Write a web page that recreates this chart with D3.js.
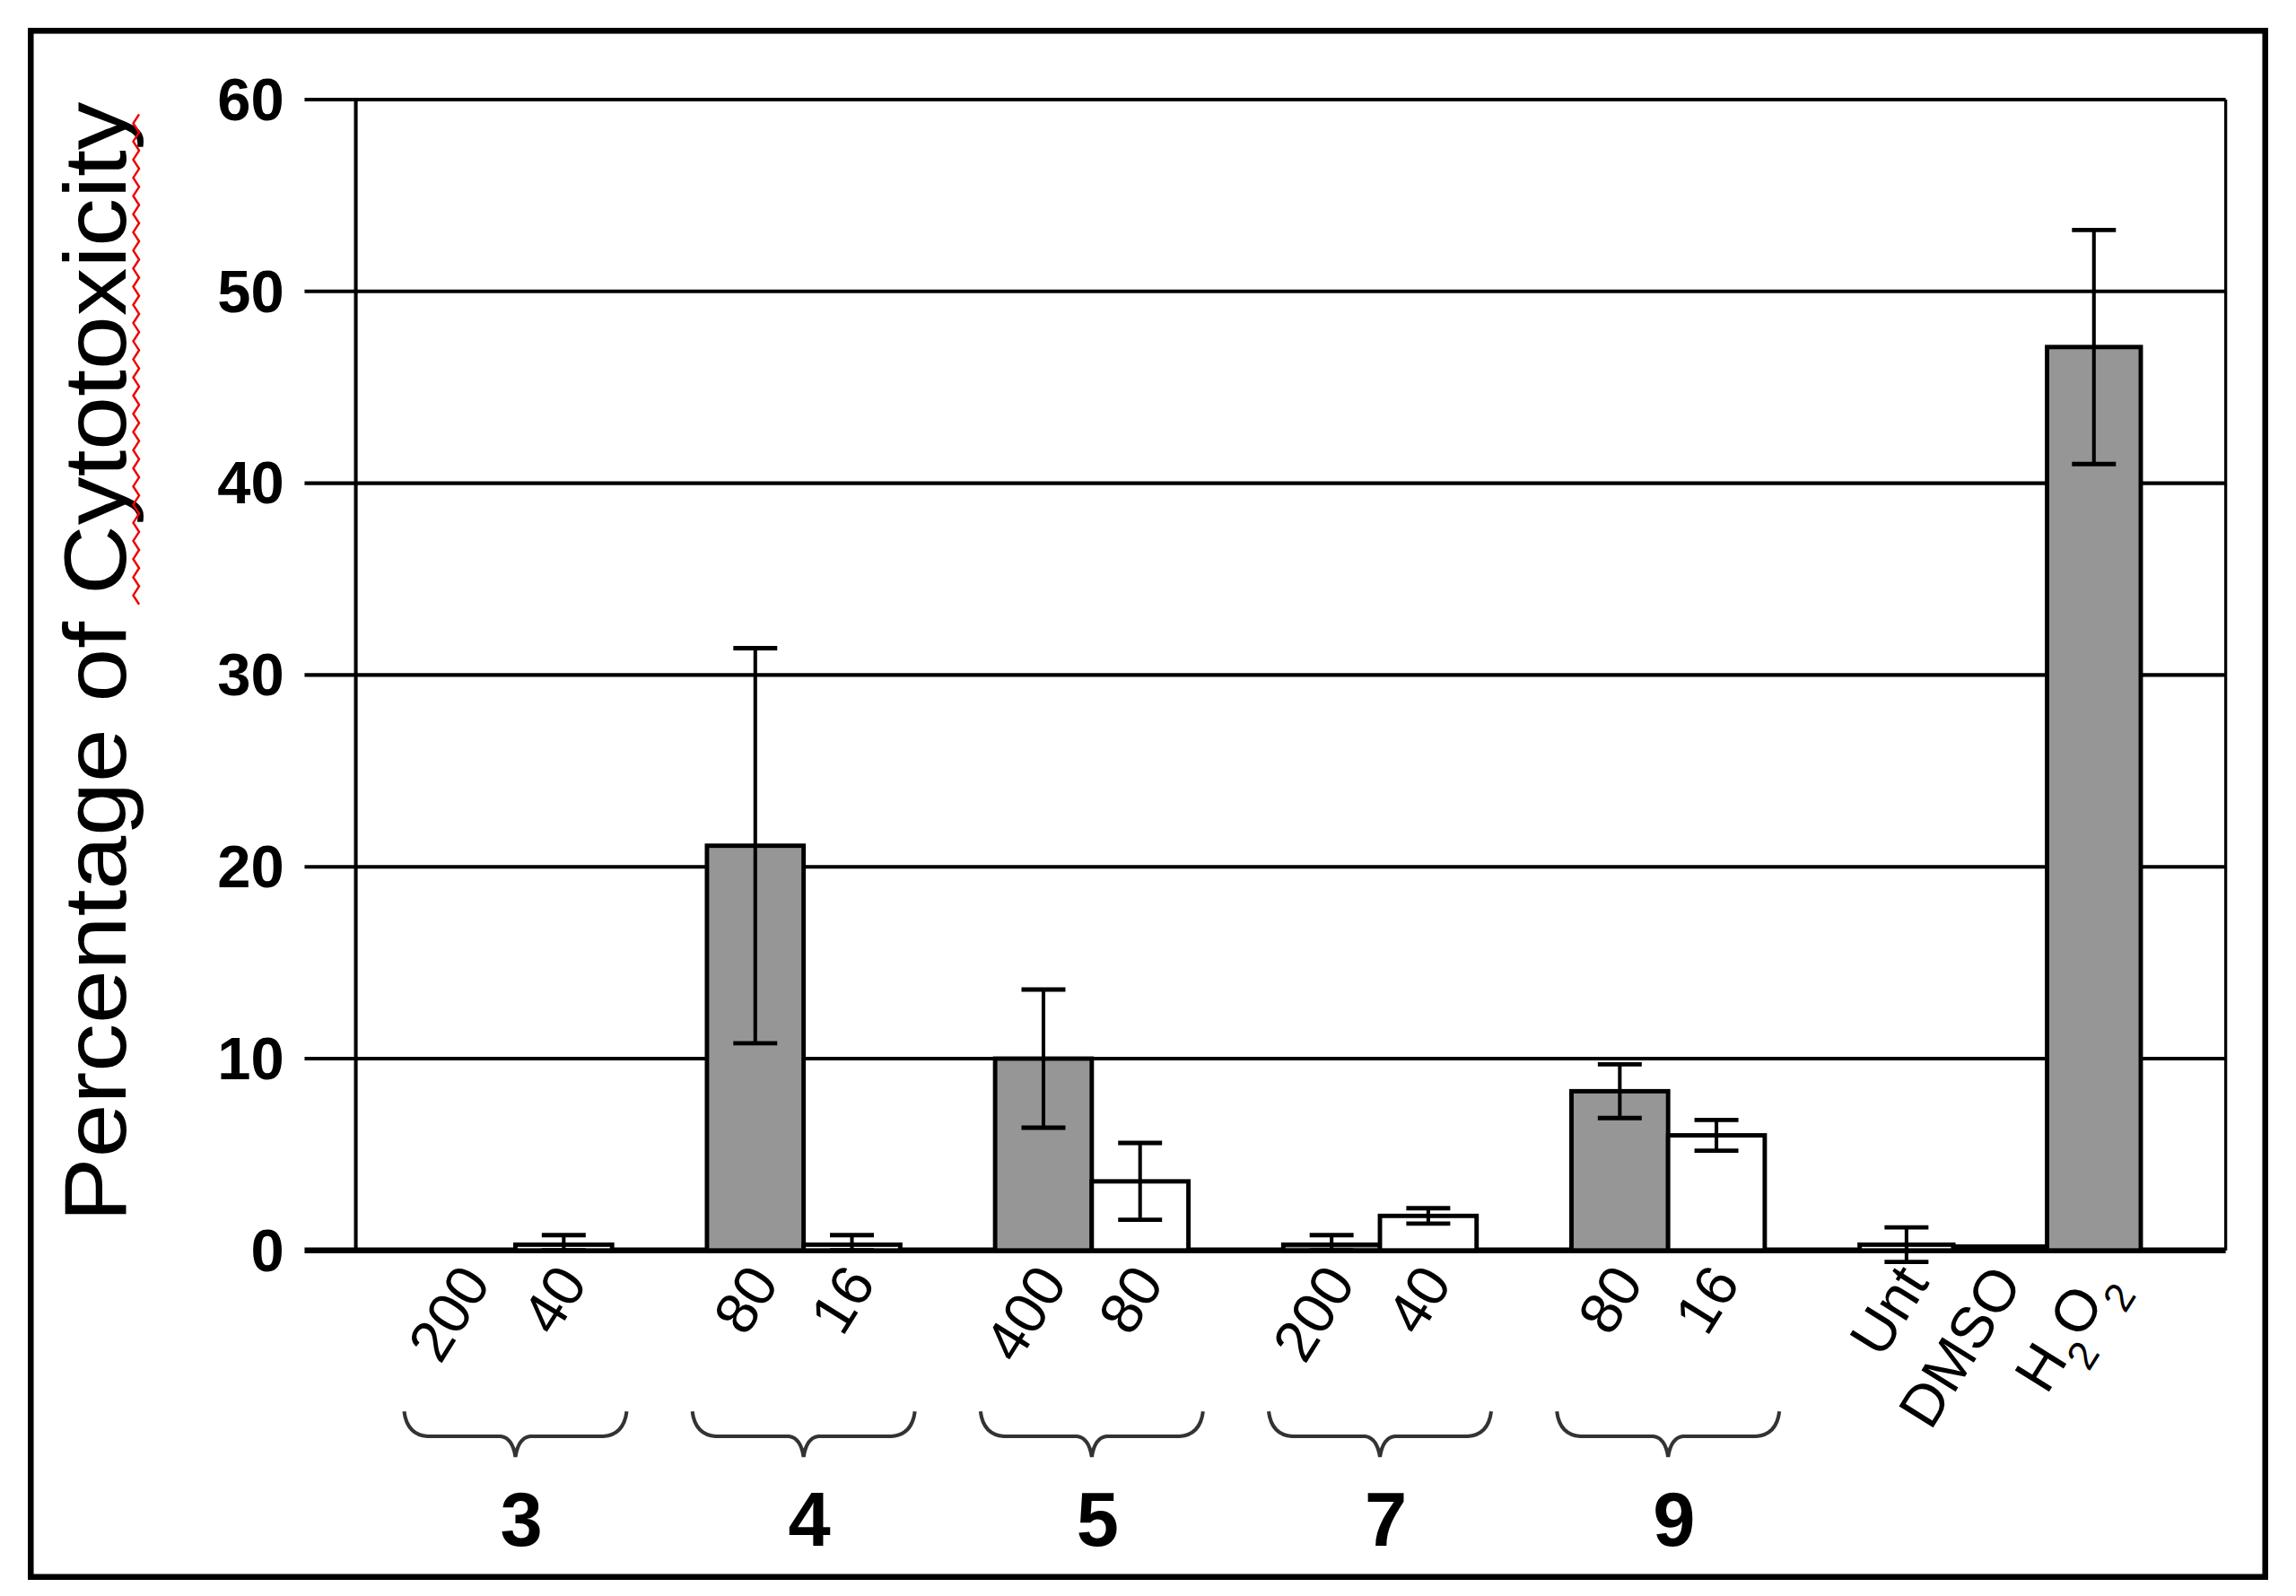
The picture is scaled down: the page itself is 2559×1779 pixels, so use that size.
<!DOCTYPE html>
<html><head><meta charset="utf-8">
<script src="https://cdn.jsdelivr.net/npm/d3@7"></script>
<style>body{margin:0;background:#fff}</style></head>
<body><svg id="c"></svg>
<script>
// data
var groups = ["3", "4", "5", "7", "9", ""];
var doses = [["200", "40"], ["80", "16"], ["400", "80"], ["200", "40"], ["80", "16"], ["Unt", "DMSO", "H2O2"]];
var means = [[0, 0.3], [21.1, 0.3], [10.0, 3.6], [0.3, 1.8], [8.3, 6.0], [0.3, 0.2, 47.1]];
var errs = [[0, 0.5], [10.3, 0.5], [3.6, 2.0], [0.5, 0.4], [1.4, 0.8], [0.9, 0, 6.1]];
var fills = [["#969696", "#fff"], ["#969696", "#fff"], ["#969696", "#fff"], ["#969696", "#fff"], ["#969696", "#fff"], ["#fff", "#fff", "#969696"]];
var yTicks = [0, 10, 20, 30, 40, 50, 60];

var svg = d3.select("#c").attr("width", 2559).attr("height", 1779)
	.attr("viewBox", "0 0 1568 1090");
var font = "Liberation Sans, Arial, sans-serif";

svg.append("rect").attr("x", 21).attr("y", 21).attr("width", 1526).attr("height", 1056)
	.attr("fill", "none").attr("stroke", "#000").attr("stroke-width", 4);

var y = d3.scaleLinear().domain([0, 60]).range([854, 68]);
var gx = d3.scaleLinear().domain([0, 5]).range([286, 1270]);
var bw = 66;

// grid + ticks
svg.append("g").selectAll("line").data(yTicks).enter().append("line")
	.attr("x1", 208).attr("x2", 1520).attr("y1", y).attr("y2", y)
	.attr("stroke", "#000").attr("stroke-width", function (d) { return d == 0 ? 4 : 2.5 });
svg.append("line").attr("x1", 243).attr("x2", 243).attr("y1", 68).attr("y2", 854).attr("stroke", "#000").attr("stroke-width", 2.5);
svg.append("line").attr("x1", 1520).attr("x2", 1520).attr("y1", 68).attr("y2", 854).attr("stroke", "#000").attr("stroke-width", 2);
svg.append("g").selectAll("text").data(yTicks).enter().append("text")
	.attr("x", 194).attr("y", function (d) { return y(d) + 14 }).attr("text-anchor", "end")
	.attr("font-family", font).attr("font-weight", "bold").attr("font-size", 41).text(function (d) { return d });

svg.append("text").attr("transform", "translate(86,452) rotate(-90)").attr("text-anchor", "middle")
	.attr("font-family", font).attr("font-size", 60).attr("textLength", 765).attr("lengthAdjust", "spacingAndGlyphs")
	.text("Percentage of Cytotoxicity");
// spell-check squiggle under "Cytotoxicity"
var sq = [];
for (var i = 0; i <= 54; i++) sq.push([i % 2 ? 91 : 95, 78 + i * 6.2]);
svg.append("path").attr("d", d3.line()(sq)).attr("fill", "none").attr("stroke", "#e00").attr("stroke-width", 1.5);

var bars = [];
groups.forEach(function (g, gi) {
	means[gi].forEach(function (m, bi) {
		bars.push({ x: gx(gi) + bi * (gi == 5 ? 64 : bw), gi: gi, bi: bi, m: m, e: errs[gi][bi], f: fills[gi][bi], lab: doses[gi][bi] });
	});
});

svg.append("g").selectAll("rect").data(bars.filter(function (b) { return b.m > 0 })).enter().append("rect")
	.attr("x", function (d) { return d.x }).attr("width", function (d) { return d.gi == 5 ? 64 : bw })
	.attr("y", function (d) { return y(d.m) }).attr("height", function (d) { return y(0) - y(d.m) })
	.attr("fill", function (d) { return d.f }).attr("stroke", "#000").attr("stroke-width", 3);

var eb = svg.append("g").selectAll("g").data(bars.filter(function (b) { return b.e > 0 })).enter().append("g")
	.attr("transform", function (d) { return "translate(" + (d.x + (d.gi == 5 ? 32 : bw / 2)) + ",0)" });
function lo(d) { return y(Math.max(d.m - d.e, d.gi == 5 ? -0.6 : 0)) }
eb.append("line").attr("y1", function (d) { return y(d.m + d.e) }).attr("y2", lo)
	.attr("stroke", "#000").attr("stroke-width", 2.5);
eb.append("line").attr("x1", -15).attr("x2", 15).attr("y1", function (d) { return y(d.m + d.e) }).attr("y2", function (d) { return y(d.m + d.e) })
	.attr("stroke", "#000").attr("stroke-width", 3);
eb.append("line").attr("x1", -15).attr("x2", 15).attr("y1", lo).attr("y2", lo)
	.attr("stroke", "#000").attr("stroke-width", 3);

// dose labels
var lab = svg.append("g").selectAll("text").data(bars).enter().append("text")
	.attr("transform", function (d) { return "translate(" + (d.x + (d.gi == 5 ? 48 : 50)) + ",876) rotate(-58)" })
	.attr("text-anchor", "end").attr("font-family", font).attr("font-size", 40);
lab.each(function (d) {
	var t = d3.select(this);
	if (d.lab == "H2O2") {
		t.append("tspan").text("H");
		t.append("tspan").attr("baseline-shift", "sub").attr("font-size", 28).text("2");
		t.append("tspan").text("O");
		t.append("tspan").attr("baseline-shift", "sub").attr("font-size", 28).text("2");
	} else t.text(d.lab);
});

// braces and group numbers
var br = svg.append("g").selectAll("g").data(groups.slice(0, 5)).enter().append("g")
	.attr("transform", function (d, i) { return "translate(" + (gx(i) + bw) + ",0)" });
br.append("path").attr("fill", "none").attr("stroke", "#333").attr("stroke-width", 2.5)
	.attr("d", "M-76,964 Q-74,980 -60,981 L-10,981 Q-2,982 0,995 Q2,982 10,981 L60,981 Q74,980 76,964");
br.append("text").attr("y", 1056).attr("x", 4).attr("text-anchor", "middle").attr("font-family", font)
	.attr("font-weight", "bold").attr("font-size", 52).text(function (d) { return d });
</script></body></html>
